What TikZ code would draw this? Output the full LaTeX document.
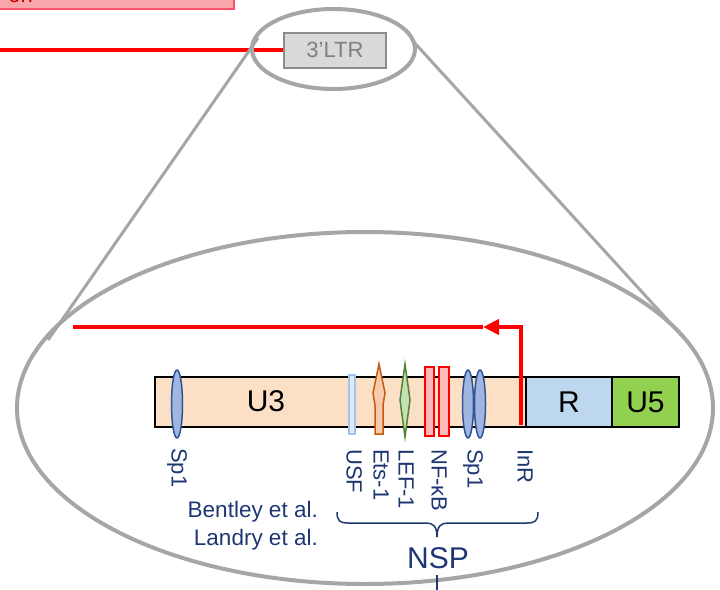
\documentclass[tikz,border=0pt]{standalone}
\usepackage{fontspec}
\setmainfont{Liberation Sans}
\usetikzlibrary{arrows.meta}
\definecolor{grayline}{RGB}{166,166,166}
\definecolor{ltrfill}{RGB}{217,217,217}
\definecolor{ltrdraw}{RGB}{140,140,140}
\definecolor{ltrtext}{RGB}{128,128,128}
\definecolor{pinkfill}{RGB}{248,165,172}
\definecolor{pinkdraw}{RGB}{255,80,110}
\definecolor{darkred}{RGB}{192,0,0}
\definecolor{redl}{RGB}{255,0,0}
\definecolor{u3c}{RGB}{252,224,198}
\definecolor{rc}{RGB}{189,215,238}
\definecolor{u5c}{RGB}{146,208,80}
\definecolor{labc}{RGB}{30,55,115}
\definecolor{sp1fill}{RGB}{160,182,224}
\definecolor{sp1draw}{RGB}{47,85,151}
\definecolor{usffill}{RGB}{222,235,247}
\definecolor{usfdraw}{RGB}{157,195,230}
\definecolor{etsfill}{RGB}{248,203,173}
\definecolor{etsdraw}{RGB}{197,90,17}
\definecolor{leffill}{RGB}{197,224,180}
\definecolor{lefdraw}{RGB}{84,130,53}
\definecolor{nffill}{RGB}{255,185,185}
\tikzset{
  zoomline/.style={draw=grayline, line width=3pt},
  zoomell/.style={draw=grayline, line width=4pt},
  redline/.style={draw=redl, line width=4pt},
  segbox/.style={draw=black, line width=2pt, inner sep=0pt, minimum height=50pt, anchor=north west},
  segtext/.style={font=\fontsize{30}{34}\selectfont, text=black, inner sep=0pt},
  lab/.style={rotate=-90, anchor=west, inner sep=0pt, font=\fontsize{22}{26}\selectfont, text=labc, text height=15.5pt, text depth=4.6pt},
  ref/.style={anchor=base east, inner sep=0pt, font=\fontsize{22.5}{27}\selectfont, text=labc},
  sp1/.style={fill=sp1fill, draw=sp1draw, line width=1.5pt},
  ltrbox/.style={draw=ltrdraw, fill=ltrfill, line width=2pt, minimum width=102pt, minimum height=35pt, inner sep=0pt},
}
\begin{document}
\begin{tikzpicture}[x=1pt,y=-1pt]
\useasboundingbox (0,0) rectangle (720,589);
% top pink box (cut off)
\node[draw=pinkdraw, fill=pinkfill, line width=2pt, minimum width=245pt, minimum height=40pt, anchor=south east, inner sep=0pt] (pink) at (235,10) {};
\node[anchor=base east, inner sep=0pt, font=\fontsize{22}{26}\selectfont, text=darkred] (pinktxt) at (33,2.5) {on};
% red line to 3'LTR
\coordinate (rstart) at (-5,50);
\node[ltrbox] (ltr) at (335,50) {};
\draw[redline] (rstart) -- (ltr.west);
% small ellipse
\draw[zoomell] (333.5,49) ellipse [x radius=81.5, y radius=40];
\node[ltrbox, font=\fontsize{22}{26}\selectfont, text=ltrtext] (ltr2) at (335,50) {3’LTR};
% zoom lines
\coordinate (lt) at (258,38);
\coordinate (lb) at (48,340);
\coordinate (rt) at (412,40);
\coordinate (rb) at (684,338);
\draw[zoomline] (lt) -- (lb);
\draw[zoomline] (rt) -- (rb);
% big ellipse
\draw[zoomell] (365,408) ellipse [x radius=348, y radius=176];
% segments
\node[segbox, fill=u3c, minimum width=371pt] (u3) at (154,376) {};
\node[segbox, fill=rc, minimum width=86pt] (r) at (525,376) {};
\node[segbox, fill=u5c, minimum width=67pt] (u5) at (611,376) {};
\node[segtext] (u3t) at (266,401) {U3};
\node[segtext] (rt2) at (r.center) {R};
\node[segtext] (u5t) at (u5.center) {U5};
% binding sites
\draw[sp1] (177,404) ellipse [x radius=5.5, y radius=34];
\draw[fill=usffill, draw=usfdraw, line width=1.5pt] (349,375) rectangle (355,434);
\draw[fill=etsfill, draw=etsdraw, line width=1.5pt, line join=miter] (379,364) -- (385,393) -- (383,405) -- (383,434) -- (375,434) -- (375,405) -- (373,393) -- cycle;
\draw[fill=leffill, draw=lefdraw, line width=1.5pt] (405,364) -- (410,400) -- (405,437) -- (400,400) -- cycle;
\draw[fill=nffill, draw=redl, line width=1.5pt] (425,367) rectangle (434,436);
\draw[fill=nffill, draw=redl, line width=1.5pt] (439,367) rectangle (449,436);
\draw[sp1] (468,404) ellipse [x radius=5.5, y radius=34];
\draw[sp1] (480,404) ellipse [x radius=5.5, y radius=34];
% transcription start arrow
\coordinate (inr) at (521,425);
\coordinate (tip) at (483,327);
\coordinate (aend) at (73,327);
\draw[redline, -{Triangle[length=16pt,width=15pt]}] (inr) |- (tip);
\draw[redline] (tip) -- (aend);
% labels
\node[lab] (l1) at (177,448) {Sp1};
\node[lab] (l2) at (352,449) {USF};
\node[lab] (l3) at (379,449) {Ets-1};
\node[lab] (l4) at (404,449) {LEF-1};
\node[lab] (l5) at (437,449) {NF-κB};
\node[lab] (l6) at (473,449) {Sp1};
\node[lab] (l7) at (523,449) {InR};
\node[ref] (b1) at (318,517) {Bentley et al.};
\node[ref] (b2) at (318,545) {Landry et al.};
% brace
\coordinate (bl) at (337,512);
\coordinate (bm) at (437,537);
\coordinate (br) at (538,512);
\draw[labc, line width=1.5pt] (bl) .. controls (337,521) and (340,523) .. (348,523) -- (426,523) .. controls (433,523) and (437,526) .. (bm) .. controls (437,526) and (441,523) .. (448,523) -- (527,523) .. controls (535,523) and (538,521) .. (br);
\node[anchor=base, inner sep=0pt, font=\fontsize{30}{34}\selectfont, text=labc] (nsp) at (438,568) {NSP};
\coordinate (nspb) at (437,594);
\draw[labc, line width=1.2pt] (437,575) -- (nspb);
\end{tikzpicture}
\end{document}
